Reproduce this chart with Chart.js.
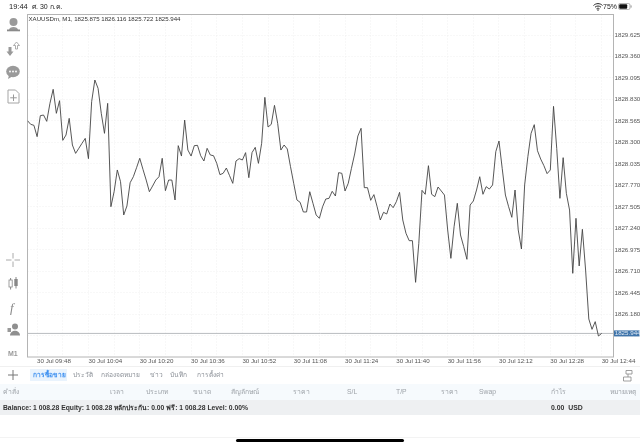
<!DOCTYPE html>
<html lang="th"><head><meta charset="utf-8">
<style>
html,body{margin:0;padding:0;background:#fff;width:640px;height:447px;overflow:hidden;font-family:"Liberation Sans",Arial,sans-serif}
#c{position:absolute;left:0;top:0}
.t{position:absolute;white-space:nowrap;line-height:1}
.st{font-size:7.5px;color:#222}
.tab{font-size:6.6px;color:#8a8f96;top:372px}
.hd{font-size:6.8px;color:#9ea3a9;top:389px}
.bar{position:absolute}
svg{position:absolute;overflow:visible}
</style>
<script src="https://cdn.jsdelivr.net/npm/chart.js@4"></script>
</head><body>
<canvas id="c" width="640" height="447"></canvas>

<div class="t st" style="left:9px;top:3px">19:44</div>
<div class="t st" style="left:32px;top:3px;font-size:7px">ศ. 30 ก.ค.</div>
<div class="t st" style="left:603px;top:3px;font-size:7px">75%</div>
<svg style="left:593px;top:3px" width="10" height="8" viewBox="0 0 10 8"><path d="M0.5 2.5C3 0 7 0 9.5 2.5M2 4.2C3.8 2.6 6.2 2.6 8 4.2M3.5 5.8C4.4 5 5.6 5 6.5 5.8" fill="none" stroke="#222" stroke-width="1"/><circle cx="5" cy="7" r=".8" fill="#222"/></svg>
<svg style="left:618px;top:3px" width="14" height="7" viewBox="0 0 14 7"><rect x=".5" y=".5" width="11.5" height="6" rx="1.5" fill="none" stroke="#999" stroke-width=".7"/><rect x="1.2" y="1.2" width="8" height="4.6" rx="1" fill="#111"/><rect x="12.6" y="2.4" width="1" height="2.2" fill="#999"/></svg>

<!-- left toolbar -->
<svg style="left:6px;top:17px" width="15" height="15" viewBox="0 0 15 15"><circle cx="7.5" cy="5" r="4" fill="#9a9a9a"/><path d="M3 13C3 9 12 9 12 13Z" fill="#9a9a9a"/><rect x="1" y="12.5" width="13" height="1.8" fill="#8a8a8a"/></svg>
<svg style="left:6px;top:41px" width="15" height="15" viewBox="0 0 15 15"><path d="M2.5 6V10.5H0.5L4 15L7.5 10.5H5.5V6Z" fill="#999"/><path d="M9.5 8V4.5H7.5L10.5 1L13.5 4.5H11.5V8Z" fill="#fff" stroke="#999" stroke-width=".8"/></svg>
<svg style="left:6px;top:65px" width="15" height="15" viewBox="0 0 15 15"><ellipse cx="7" cy="6.5" rx="6.8" ry="5.8" fill="#9a9a9a"/><path d="M3 10L2 14L7 11Z" fill="#9a9a9a"/><circle cx="4" cy="6.5" r=".9" fill="#fff"/><circle cx="7" cy="6.5" r=".9" fill="#fff"/><circle cx="10" cy="6.5" r=".9" fill="#fff"/></svg>
<svg style="left:7px;top:89px" width="13" height="15" viewBox="0 0 13 15"><path d="M1 1H8.5L12 4.5V14H1Z" fill="#fff" stroke="#a5a5a5"/><path d="M6.5 5.5V12M3.2 8.8H9.8" stroke="#999" stroke-width="1"/></svg>
<svg style="left:6px;top:253px" width="14" height="14" viewBox="0 0 14 14"><path d="M7 0V5.5M7 8.5V14M0 7H5.5M8.5 7H14" stroke="#aaa" stroke-width="1"/></svg>
<svg style="left:8px;top:277px" width="11" height="13" viewBox="0 0 11 13"><rect x="1" y="3" width="3.2" height="7" fill="#fff" stroke="#888" stroke-width=".8"/><path d="M2.6 1V3M2.6 10V12.5M8 0V2M8 9V11.5" stroke="#888"/><rect x="6.3" y="2" width="3.4" height="7" fill="#888"/></svg>
<div class="t" style="left:10px;top:300px;font:italic 13px 'Liberation Serif',serif;color:#888">f</div>
<svg style="left:7px;top:323px" width="13" height="13" viewBox="0 0 13 13"><circle cx="8" cy="3.5" r="3" fill="#8f8f8f"/><path d="M3 12.5C3 6 13 6 13 12.5Z" fill="#8f8f8f"/><rect x="0.5" y="5" width="3.5" height="4" fill="#999"/></svg>
<div class="t" style="left:8px;top:350px;font-size:7px;font-weight:bold;color:#999">M1</div>

<!-- tab bar -->
<div class="bar" style="left:0;top:366px;width:640px;height:1px;background:#f0f0f0"></div>
<svg style="left:7px;top:369px" width="12" height="12" viewBox="0 0 12 12"><path d="M6 1V11M1 6H11" stroke="#777" stroke-width="1"/></svg>
<div class="bar" style="left:30px;top:369px;width:37px;height:12px;background:#e9f3fd"></div>
<div class="t tab" style="left:33px;color:#3a8ef0;font-weight:bold">การซื้อขาย</div>
<div class="t tab" style="left:73px">ประวัติ</div>
<div class="t tab" style="left:101px">กล่องจดหมาย</div>
<div class="t tab" style="left:150px">ข่าว</div>
<div class="t tab" style="left:170px">บันทึก</div>
<div class="t tab" style="left:197px">การตั้งค่า</div>
<svg style="left:623px;top:370px" width="11" height="12" viewBox="0 0 11 12"><path d="M3 .5H9V4H3ZM.5 7H8V11H.5ZM5 4V7" fill="none" stroke="#888" stroke-width=".8"/></svg>

<!-- table header -->
<div class="bar" style="left:0;top:384px;width:640px;height:16px;background:#f6fafd"></div>
<div class="t hd" style="left:3px">คำสั่ง</div>
<div class="t hd" style="left:110px">เวลา</div>
<div class="t hd" style="left:146px">ประเภท</div>
<div class="t hd" style="left:193px">ขนาด</div>
<div class="t hd" style="left:231px">สัญลักษณ์</div>
<div class="t hd" style="left:293px">ราคา</div>
<div class="t hd" style="left:347px">S/L</div>
<div class="t hd" style="left:396px">T/P</div>
<div class="t hd" style="left:441px">ราคา</div>
<div class="t hd" style="left:479px">Swap</div>
<div class="t hd" style="left:551px">กำไร</div>
<div class="t hd" style="left:610px">หมายเหตุ</div>

<!-- balance row -->
<div class="bar" style="left:0;top:400px;width:640px;height:15px;background:#eef0f2"></div>
<div class="t" style="left:3px;top:405px;font-size:6.75px;font-weight:bold;color:#333">Balance: 1 008.28 Equity: 1 008.28 หลักประกัน: 0.00 ฟรี: 1 008.28 Level: 0.00%</div>
<div class="t" style="left:551px;top:405px;font-size:6.9px;font-weight:bold;color:#333">0.00&nbsp; USD</div>

<div class="bar" style="left:0;top:437px;width:640px;height:1px;background:#f3f3f3"></div>
<div class="bar" style="left:236px;top:439px;width:168px;height:3px;border-radius:2px;background:#000"></div>

<script>
const chartTitle = 'XAUUSDm, M1, 1825.875 1826.116 1825.722 1825.944';
const lastPrice = 1825.944;
const xTickLabels = ['30 Jul 09:48','30 Jul 10:04','30 Jul 10:20','30 Jul 10:36','30 Jul 10:52','30 Jul 11:08','30 Jul 11:24','30 Jul 11:40','30 Jul 11:56','30 Jul 12:12','30 Jul 12:28','30 Jul 12:44'];
const yTickLabels = ['1829.625','1829.360','1829.095','1828.830','1828.565','1828.300','1828.035','1827.770','1827.505','1827.240','1826.975','1826.710','1826.445','1826.180','1825.915'];
const closes = [
1828.568,1828.523,1828.511,1828.371,1828.630,1828.638,1828.560,1828.782,1828.955,1828.659,
1828.815,1828.326,1828.391,1828.597,1828.268,1828.165,1828.227,1828.289,1828.350,1828.100,
1828.803,1829.070,1828.967,1828.659,1828.412,1828.782,1827.507,1827.692,1827.960,1827.816,
1827.405,1827.516,1827.803,1827.877,1827.988,1828.104,1827.968,1827.836,1827.692,1827.762,
1827.836,1827.877,1828.104,1827.705,1827.836,1827.836,1827.590,1828.260,1828.132,1828.576,
1828.206,1828.132,1828.260,1828.264,1828.136,1828.071,1828.227,1828.145,1828.136,1828.042,
1827.902,1827.919,1827.984,1827.890,1827.795,1828.071,1828.100,1828.083,1828.174,1827.865,
1828.174,1828.239,1828.042,1828.289,1828.856,1828.490,1828.523,1828.757,1828.535,1828.206,
1828.268,1828.219,1828.001,1827.795,1827.590,1827.561,1827.442,1827.442,1827.692,1827.549,
1827.405,1827.364,1827.507,1827.602,1827.610,1827.697,1827.639,1827.927,1827.919,1827.701,
1827.795,1827.980,1828.157,1828.379,1828.474,1827.742,1827.742,1827.586,1827.656,1827.507,
1827.343,1827.438,1827.417,1827.540,1827.495,1827.569,1827.684,1827.343,1827.179,1827.088,
1827.088,1826.574,1827.055,1827.709,1827.660,1828.013,1827.660,1827.631,1827.750,1827.701,
1827.651,1827.220,1826.870,1827.261,1827.549,1827.158,1827.014,1826.858,1827.528,1827.577,
1827.713,1827.877,1827.660,1827.754,1827.725,1827.775,1828.186,1828.317,1827.980,1827.651,
1827.507,1827.376,1827.713,1827.220,1826.985,1827.775,1828.124,1828.412,1828.519,1828.198,
1828.095,1828.013,1827.915,1827.960,1828.745,1828.227,1827.610,1828.112,1827.672,1827.466,
1826.685,1827.364,1826.776,1827.228,1826.726,1826.122,1825.994,1826.089,1825.912,1825.944];

const AXIS_MAX = 182.7, FIRST_TICK = 3, MINOR = 8;
const frame = {
  id:'frame',
  beforeDatasetsDraw(ch){
    const {ctx,chartArea:a}=ch;
    ctx.save();ctx.strokeStyle='#b4b4b4';ctx.lineWidth=1;
    ctx.strokeRect(a.left,a.top,a.right-a.left,a.bottom-a.top);
    ctx.restore();
  },
  afterDraw(ch){
    const {ctx,chartArea:a,scales:{y}}=ch;
    const py=y.getPixelForValue(lastPrice);
    ctx.save();
    ctx.fillStyle='#fff';ctx.fillRect(a.right+.5,py-3,26,6.5);
    ctx.fillStyle='#3f74aa';ctx.fillRect(a.right+.5,py-3,25.5,6);
    ctx.fillStyle='#dfe9f3';ctx.font='6.2px "Liberation Sans"';ctx.textBaseline='middle';ctx.textAlign='left';
    ctx.fillText(lastPrice.toFixed(3),a.right+1.2,py+.2);
    ctx.fillStyle='#333';ctx.font='6.1px "Liberation Sans"';ctx.textBaseline='alphabetic';
    ctx.fillText(chartTitle,a.left+1,21);
    ctx.restore();
  }
};
new Chart(document.getElementById('c'),{
  type:'line',
  data:{datasets:[
    {data:closes.map((y,x)=>({x,y})),borderColor:'#444',borderWidth:.9,pointRadius:0,tension:0},
    {data:[{x:0,y:lastPrice},{x:AXIS_MAX,y:lastPrice}],borderColor:'#b9bcc0',borderWidth:1,pointRadius:0}
  ]},
  options:{
    responsive:false,animation:false,devicePixelRatio:1,
    layout:{autoPadding:false,padding:{left:27.5,top:14.5,right:0,bottom:0}},
    plugins:{legend:{display:false},tooltip:{enabled:false}},
    scales:{
      x:{type:'linear',min:0,max:AXIS_MAX,
        afterFit(s){s.height=90},
        afterBuildTicks(s){const t=[];for(let i=0;i<xTickLabels.length*2-1;i++)t.push({value:FIRST_TICK+i*MINOR});s.ticks=t},
        grid:{color:'#ececec',lineWidth:.8,drawTicks:false},
        border:{display:false,dash:[1,2]},
        ticks:{autoSkip:false,maxRotation:0,minRotation:0,align:'start',padding:1,color:'#555',
          font:{family:'"Liberation Sans"',size:6.2},
          callback:v=>{const k=(v-FIRST_TICK)/MINOR;return k%2===0?xTickLabels[k/2]:''}}},
      y:{type:'linear',position:'right',min:1825.653,max:1829.878,
        afterFit(s){s.width=26.5},
        afterBuildTicks(s){s.ticks=yTickLabels.map(v=>({value:+v}))},
        grid:{color:'#ececec',lineWidth:.8,drawTicks:false},
        border:{display:false,dash:[1,2]},
        ticks:{padding:1,color:'#555',font:{family:'"Liberation Sans"',size:6.2},
          callback:v=>v.toFixed(3)}}
    }
  },
  plugins:[frame]
});
</script>
</body></html>
